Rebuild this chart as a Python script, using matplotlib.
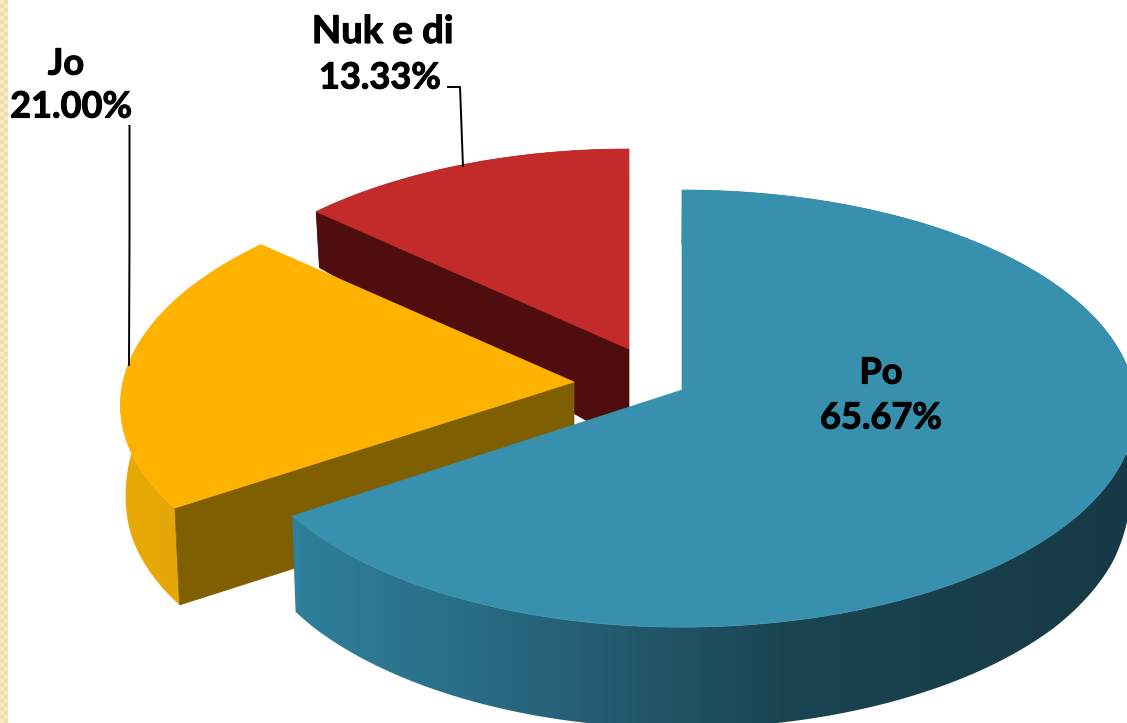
import numpy as np
import matplotlib
matplotlib.use("Agg")
import matplotlib.pyplot as plt
import matplotlib.patheffects as pe
from matplotlib.patches import Polygon
from matplotlib.colors import to_rgb, ListedColormap

categories = ["Po", "Jo", "Nuk e di"]
values = [65.67, 21.00, 13.33]

top_colors = ["#3791AE", "#FFB300", "#C22B2A"]
face_colors = ["#2A7A95", "#7F5F00", "#4F0D0D"]
centers = {"Po": (682, 390), "Jo": (574, 382), "Nuk e di": (629, 349)}
x_radius = {"Po": (446, 452), "Jo": (451, 451), "Nuk e di": (445, 445)}
x_persp = {"Po": 0.085, "Jo": 0.106, "Nuk e di": 0.085}
side_stops = {
    "Po": ([290, 450, 620, 780, 1127], ["#2F809C", "#2A6F88", "#245A6E", "#1A4552", "#163A45"]),
    "Jo": ([120, 180], ["#E8AA06", "#E5A608"]),
    "Nuk e di": ([300, 630], ["#7A1515", "#7A1515"]),
}
depth_y = {
    "Po": ([150, 212, 300, 400, 470, 530, 650], [52, 56, 64, 78, 92, 97, 102]),
    "Jo": ([240, 380, 430, 505], [56, 85, 95, 97]),
    "Nuk e di": ([150, 212, 300], [52, 56, 64]),
}
apex_depth = {"Jo": 97, "Nuk e di": 96}

RY, P = 217.0, 0.085
fig = plt.figure(figsize=(11.27, 7.23), dpi=100, facecolor="white")
ax = fig.add_axes([0, 0, 1, 1])
ax.axis("off")


def top_pt(t, c, rx, px):
    u, v = np.sin(t), np.cos(t)
    r = np.where(u < 0, rx[0], rx[1])
    return c[0] + r * u / (1 + px * v), c[1] - RY * v / (1 + P * v)


def bottom_pt(name, x, y):
    d = np.interp(y, *depth_y[name])
    return x + (640 - x) * 0.01, y + d


# border strip
checker = (np.indices((181, 2)).sum(axis=0) % 2).astype(float)
ax.imshow(checker, extent=(0, 7.5, 723, 0), cmap=ListedColormap(["#F6E8C4", "#EFDDAC"]),
          aspect="auto", interpolation="nearest", zorder=1)

# angle ranges, clockwise from 12 o'clock
edges = np.cumsum([0] + values) / 100 * 2 * np.pi
ranges = {n: (edges[i], edges[i + 1]) for i, n in enumerate(categories)}

z = 2
for name in ["Nuk e di", "Jo", "Po"]:
    i = categories.index(name)
    a0, a1 = ranges[name]
    c, rx = centers[name], x_radius[name]
    ts = np.linspace(a0, a1, 400)
    xs, ys = top_pt(ts, c, rx, x_persp[name])
    bx, by = bottom_pt(name, xs, ys)
    # outer wall: one outline filled with a left-to-right shade
    wall = Polygon(np.vstack([np.column_stack([xs, ys]), np.column_stack([bx, by])[::-1]]),
                   closed=True, facecolor="none", edgecolor="none", zorder=z)
    ax.add_patch(wall)
    stops_x, stops_c = side_stops[name]
    rgb = np.array([to_rgb(col) for col in stops_c])
    grid = np.linspace(0, 1127, 1127)
    shade = np.stack([np.interp(grid, stops_x, rgb[:, k]) for k in range(3)], axis=-1)[None, :, :]
    im = ax.imshow(shade, extent=(0, 1127, 723, 0), aspect="auto", interpolation="bilinear", zorder=z)
    im.set_clip_path(wall)
    # cut face towards the viewer
    if name != "Po":
        quad = [c, (xs[0], ys[0]), (bx[0], by[0]), (c[0], c[1] + apex_depth[name])]
        ax.add_patch(Polygon(quad, closed=True, facecolor=face_colors[i], edgecolor=face_colors[i], lw=0.5, zorder=z + 1))
    # top
    poly = np.vstack([[c], np.column_stack([xs, ys])])
    ax.add_patch(Polygon(poly, closed=True, facecolor=top_colors[i], edgecolor=top_colors[i], lw=0.5, zorder=z + 2))
    z += 3

ax.set_xlim(0, 1127)
ax.set_ylim(723, 0)

# leader lines
ax.plot([129.5, 129.5, 129], [125, 240, 366], color="black", lw=1.4, zorder=20, solid_capstyle="butt")
ax.plot([447, 460, 463], [87, 87, 167], color="black", lw=1.4, zorder=20, solid_capstyle="butt")

# labels
label_pos = {"Po": ((881, 373), (881, 418)), "Jo": ((66, 64), (71, 107)), "Nuk e di": ((383, 32), (380, 78))}
for name, v in zip(categories, values):
    p1, p2 = label_pos[name]
    for txt, p, fs in ((name, p1, 27.5 if name == "Nuk e di" else 26), (f"{v:.2f}%", p2, 26)):
        ax.text(p[0], p[1], txt, ha="center", va="center", fontsize=fs, fontweight="bold",
                family="Lato", color="black", zorder=21,
                path_effects=[pe.withStroke(linewidth=0.8, foreground="black")])

fig.savefig("out.png", dpi=100, facecolor="white")
